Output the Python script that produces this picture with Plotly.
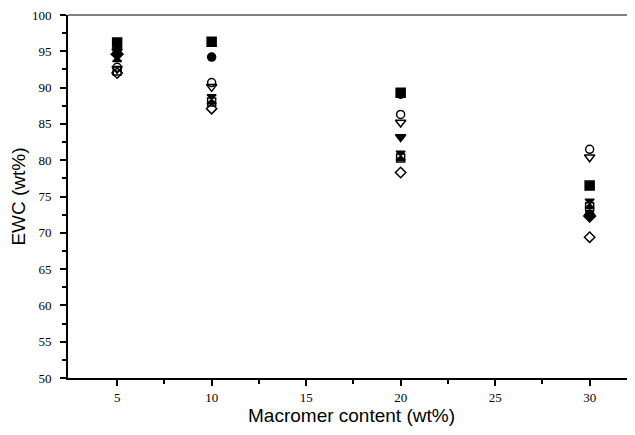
import plotly.graph_objects as go

x_vals = [5, 10, 20, 30]

filled_square = [96.2, 96.3, 89.3, 76.5]
filled_circle = [95.4, 94.2, 89.1, 72.6]
filled_triangle = [95.0, None, 83.2, 72.2]
bowtie = [94.2, 88.4, 80.6, 74.0]
open_circle = [92.8, 90.7, 86.3, 81.5]
open_triangle = [92.6, 90.1, 85.2, 80.4]
open_square = [92.3, 88.0, 80.3, 73.6]
open_diamond = [92.0, 87.1, 78.3, 69.4]
filled_diamond = [94.6, None, None, 72.3]

series = [
    ("filled square", filled_square, "square", 9),
    ("filled circle", filled_circle, "circle", 8),
    ("filled triangle", filled_triangle, "triangle-down", 9),
    ("bowtie", bowtie, "hourglass", 9),
    ("open circle", open_circle, "circle-open", 8),
    ("open triangle", open_triangle, "triangle-down-open", 9),
    ("open square", open_square, "square-open", 8),
    ("open diamond", open_diamond, "diamond-open", 8),
    ("filled diamond", filled_diamond, "diamond", 9),
]

fig = go.Figure()
for name, vals, sym, size in series:
    fig.add_trace(go.Scatter(
        x=x_vals, y=vals, mode="markers", name=name,
        marker=dict(symbol=sym, size=size, color="black",
                    line=dict(color="black", width=1.5)),
        showlegend=False,
    ))

fig.update_layout(
    width=627, height=427,
    margin=dict(l=60, r=0, t=7, b=57),
    paper_bgcolor="white", plot_bgcolor="white",
    xaxis=dict(
        range=[2.4, 32.4], tickvals=[5, 10, 15, 20, 25, 30],
        ticks="outside", ticklen=6, tickwidth=1.5, tickcolor="black",
        showline=True, linecolor="black", linewidth=2,
        showgrid=False, zeroline=False, automargin=False,
        ticklabeloverflow="allow",
        minor=dict(tickvals=[7.5, 12.5, 17.5, 22.5, 27.5], ticks="outside",
                   ticklen=4, tickcolor="black"),
        tickfont=dict(family="Liberation Serif", size=13, color="black"),
        title=dict(text="Macromer content (wt%)",
                   font=dict(family="Liberation Sans", size=19, color="black"),
                   standoff=2),
    ),
    yaxis=dict(
        range=[50, 100], tickvals=list(range(50, 101, 5)),
        ticks="outside", ticklen=6, tickwidth=1.5, tickcolor="black",
        showline=True, linecolor="black", linewidth=2,
        showgrid=False, zeroline=False, automargin=False,
        ticklabeloverflow="allow", ticklabelstandoff=6,
        minor=dict(tickvals=[52.5, 57.5, 62.5, 67.5, 72.5, 77.5, 82.5, 87.5, 92.5, 97.5],
                   ticks="outside", ticklen=4, tickcolor="black"),
        tickfont=dict(family="Liberation Serif", size=13, color="black"),
        title=dict(text="EWC (wt%)",
                   font=dict(family="Liberation Sans", size=19, color="black"),
                   standoff=4),
    ),
    shapes=[dict(type="line", xref="paper", yref="paper", x0=0, x1=1, y0=1, y1=1,
                 line=dict(color="black", width=1))],
)

fig.write_html("out.html")
